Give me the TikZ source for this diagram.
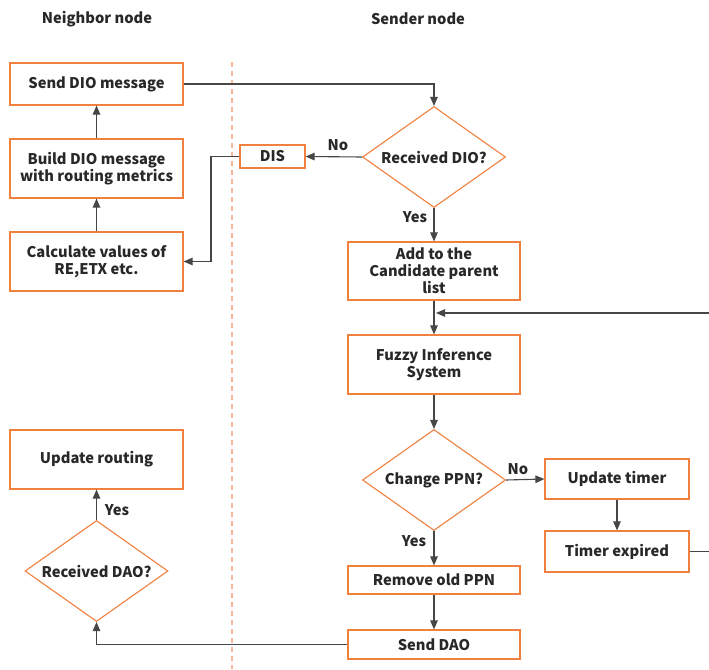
\documentclass[tikz,border=0pt]{standalone}
\usepackage{fontspec}
\setmainfont{Noto Sans CJK SC}
\usetikzlibrary{shapes.geometric,arrows.meta}
\definecolor{orng}{RGB}{241,128,62}
\definecolor{dashc}{RGB}{246,180,152}
\definecolor{linec}{RGB}{70,70,70}
\definecolor{txt}{RGB}{40,40,40}
\tikzset{
  lbl/.style={font=\bfseries\fontsize{14.7}{17}\selectfont, text=txt},
  box/.style={lbl, draw=orng, line width=1.2pt, align=center, inner sep=0pt},
  dia/.style={lbl, draw=orng, line width=1.1pt, diamond, aspect=1.42, inner sep=0pt, minimum width=143pt, minimum height=101pt},
  arr/.style={draw=linec, line width=1.1pt, -{Triangle[length=9pt,width=7.5pt]}},
}
\begin{document}
\begin{tikzpicture}[x=1pt,y=-1pt]
\useasboundingbox (0,0) rectangle (709,669);
\fill[white] (0,0) rectangle (709,669);

\node[lbl] (tn) at (97,19) {Neighbor node};
\node[lbl] (ts) at (418,19) {Sender node};

\draw[dashc, line width=1.2pt, dash pattern=on 5pt off 4pt] (232,62) -- (232,669);

% neighbor column
\node[box, minimum width=173pt, minimum height=42pt] (send) at (96.5,84) {Send DIO message};
\node[box, minimum width=173pt, minimum height=59pt] (build) at (96.5,168.5) {Build DIO message\\with routing metrics};
\node[box, minimum width=173pt, minimum height=59pt] (calc) at (96.5,261.5) {Calculate values of\\RE,ETX etc.};
\node[box, minimum width=173pt, minimum height=59pt] (upd) at (96.5,459.5) {Update routing};
\node[dia] (rdao) at (96.5,571) {Received DAO?};

% sender column
\node[dia] (rdio) at (434,157) {Received DIO?};
\node[box, minimum width=65pt, minimum height=23pt] (dis) at (272.5,156.5) {DIS};
\node[box, minimum width=172pt, minimum height=58pt] (add) at (434,271) {Add to the\\Candidate parent\\list};
\node[box, minimum width=172pt, minimum height=59pt] (fis) at (434,364.5) {Fuzzy Inference\\System};
\node[dia] (cppn) at (434,480) {Change PPN?};
\node[box, minimum width=144pt, minimum height=40pt] (utim) at (617,479) {Update timer};
\node[box, minimum width=144pt, minimum height=41pt] (texp) at (617,551.5) {Timer expired};
\node[box, minimum width=172pt, minimum height=28pt] (rem) at (434,580) {Remove old PPN};
\node[box, minimum width=172pt, minimum height=29pt] (sdao) at (434,644.5) {Send DAO};

% connectors
\draw[arr] (send.east) -| (rdio.north);
\draw[arr] (rdio.west) -- (dis.east);
\draw[arr] (dis.west) -- (211,156.5) |- (calc.east);
\draw[arr] (calc.north) -- (build.south);
\draw[arr] (build.north) -- (send.south);
\draw[arr] (rdio.south) -- (add.north);
\draw[arr] (add.south) -- (fis.north);
\draw[arr] (fis.south) -- (cppn.north);
\draw[arr] (cppn.east) -- (utim.west);
\draw[arr] (utim.south) -- (texp.north);
\draw[arr] (cppn.south) -- (rem.north);
\draw[arr] (rem.south) -- (sdao.north);
\coordinate (fbin) at (436,313);
\draw[arr] (texp.east) -- (709.5,551.5) |- (fbin);
\draw[arr] (sdao.west) -| (rdao.south);
\draw[arr] (rdao.north) -- (upd.south);

% labels
\node[lbl] (lno1) at (338,145) {No};
\node[lbl] (lyes1) at (415,217) {Yes};
\node[lbl] (lno2) at (518,469) {No};
\node[lbl] (lyes2) at (414,541) {Yes};
\node[lbl] (lyes3) at (117,510) {Yes};
\end{tikzpicture}
\end{document}
